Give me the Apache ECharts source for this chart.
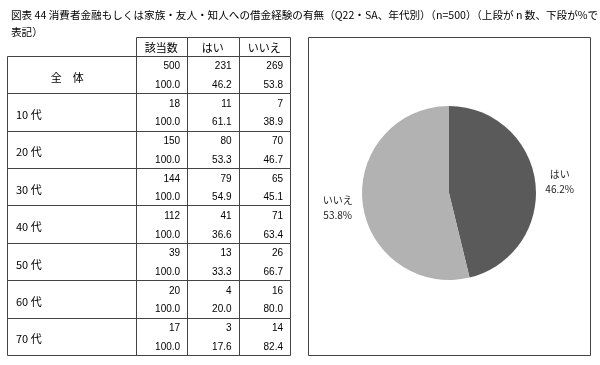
<!DOCTYPE html>
<html><head><meta charset="utf-8">
<script src="https://cdn.jsdelivr.net/npm/echarts@6/dist/echarts.min.js"></script>
<style>html,body{margin:0;padding:0;background:#fff}#c{width:600px;height:365px}</style>
</head><body><div id="c"></div>
<script>
// ---- data ----
const titleText = '図表 44 消費者金融もしくは家族・友人・知人への借金経験の有無（Q22・SA、年代別）（n=500）（上段が n 数、下段が%で\n表記）';
const columnHeaders = ['該当数', 'はい', 'いいえ'];
const rowLabels = ['全　体', '10 代', '20 代', '30 代', '40 代', '50 代', '60 代', '70 代'];
const baseCounts = [500, 18, 150, 144, 112, 39, 20, 17];
const yesCounts = [231, 11, 80, 79, 41, 13, 4, 3];
const noCounts = [269, 7, 70, 65, 71, 26, 16, 14];
const basePct = [100.0, 100.0, 100.0, 100.0, 100.0, 100.0, 100.0, 100.0];
const yesPct = [46.2, 61.1, 53.3, 54.9, 36.6, 33.3, 20.0, 17.6];
const noPct = [53.8, 38.9, 46.7, 45.1, 63.4, 66.7, 80.0, 82.4];
const pieNames = ['はい', 'いいえ'];
const pieValues = [yesCounts[0], noCounts[0]];

// ---- layout ----
const colEdges = [0, 2.5, 3.5, 4.5, 5.5];
const lineColor = '#444';
const jpFont = '"Noto Sans CJK JP", sans-serif';
const numFont = '"Liberation Sans", Arial, sans-serif';
const crisp = v => Math.round(v) + 0.5;

const chart = echarts.init(document.getElementById('c'));

function line(p, q) {
  return { type: 'line', shape: { x1: crisp(p[0]), y1: crisp(p[1]), x2: crisp(q[0]), y2: crisp(q[1]) },
    style: { stroke: lineColor, lineWidth: 1 } };
}

const headerSeries = {
  type: 'custom', coordinateSystem: 'cartesian2d', xAxisIndex: 0, yAxisIndex: 0, silent: true,
  data: columnHeaders.map((h, i) => [i]),
  renderItem(params, api) {
    const c = api.value(0);
    const p0 = api.coord([colEdges[c + 1], 0]);
    const p1 = api.coord([colEdges[c + 2], 1]);
    return { type: 'group', children: [
      line(p0, [p1[0], p0[1]]),
      line(p0, [p0[0], p1[1]]),
      line([p1[0], p0[1]], p1),
      { type: 'text', style: { text: columnHeaders[c], x: (p0[0] + p1[0]) / 2, y: (p0[1] + p1[1]) / 2 + 1,
        align: 'center', verticalAlign: 'middle', font: '11px ' + jpFont, fill: '#000' } }
    ]};
  }
};

const bodySeries = {
  type: 'custom', coordinateSystem: 'cartesian2d', xAxisIndex: 0, yAxisIndex: 0, silent: true,
  data: rowLabels.map((_, g) => [g, baseCounts[g], yesCounts[g], noCounts[g], basePct[g], yesPct[g], noPct[g]]),
  renderItem(params, api) {
    const g = api.value(0);
    const yTop = 1 + 2 * g;
    const tl = api.coord([0, yTop]);
    const br = api.coord([colEdges[4], yTop + 2]);
    const children = [
      line(tl, [br[0], tl[1]]), line([tl[0], br[1]], br),
      line(tl, [tl[0], br[1]]), line([br[0], tl[1]], br)
    ];
    for (let k = 1; k <= 3; k++) {
      children.push(line(api.coord([colEdges[k], yTop]), api.coord([colEdges[k], yTop + 2])));
    }
    const midY = (tl[1] + br[1]) / 2 + 3;
    const lx = g === 0 ? (api.coord([colEdges[0], 0])[0] + api.coord([colEdges[1], 0])[0]) / 2 - 4 : tl[0] + 9;
    children.push({ type: 'text', style: { text: rowLabels[g], x: lx, y: midY,
      align: g === 0 ? 'center' : 'left', verticalAlign: 'middle', font: '11px ' + jpFont, fill: '#000' } });
    for (let c = 0; c < 3; c++) {
      for (let s = 0; s < 2; s++) {
        const v = api.value(1 + c + s * 3);
        const txt = s === 0 ? String(v) : v.toFixed(1);
        const rp = api.coord([colEdges[c + 2], yTop + s + 0.5]);
        children.push({ type: 'text', style: { text: txt, x: rp[0] - 7, y: rp[1] + 1.5,
          align: 'right', verticalAlign: 'middle', font: '10px ' + numFont, fill: '#000' } });
      }
    }
    return { type: 'group', children };
  }
};

const option = {
  backgroundColor: '#fff',
  animation: false,
  title: {
    text: titleText, left: 6, top: 1,
    textStyle: { fontSize: 10.6, lineHeight: 17, fontWeight: 'normal', color: '#000', fontFamily: jpFont }
  },
  grid: { left: 7, top: 37, width: 283, height: 318, show: false },
  xAxis: { type: 'value', min: 0, max: 5.5, show: false },
  yAxis: { type: 'value', min: 0, max: 17, inverse: true, show: false },
  graphic: [{
    type: 'rect', shape: { x: 308.5, y: 37.5, width: 282, height: 318 },
    style: { fill: 'none', stroke: lineColor, lineWidth: 1 }, silent: true, z: 0
  }],
  series: [
    headerSeries,
    bodySeries,
    {
      type: 'pie', center: [449, 193], radius: 87, startAngle: 90, clockwise: true,
      percentPrecision: 1, silent: true,
      data: pieNames.map((n, i) => ({ name: n, value: pieValues[i],
        label: i === 1 ? { padding: [8, 0, 0, 0] } : {} })),
      itemStyle: { borderWidth: 0 },
      color: ['#5a5a5a', '#b2b2b2'],
      label: {
        show: true, position: 'outside', formatter: '{a|{b}}\n{a|{d}%}',
        rich: { a: { fontSize: 10, lineHeight: 15, fontFamily: jpFont, color: '#222', align: 'center' } }
      },
      labelLine: { show: false, length: 5, length2: 0 }
    }
  ]
};
chart.setOption(option);
</script></body></html>
